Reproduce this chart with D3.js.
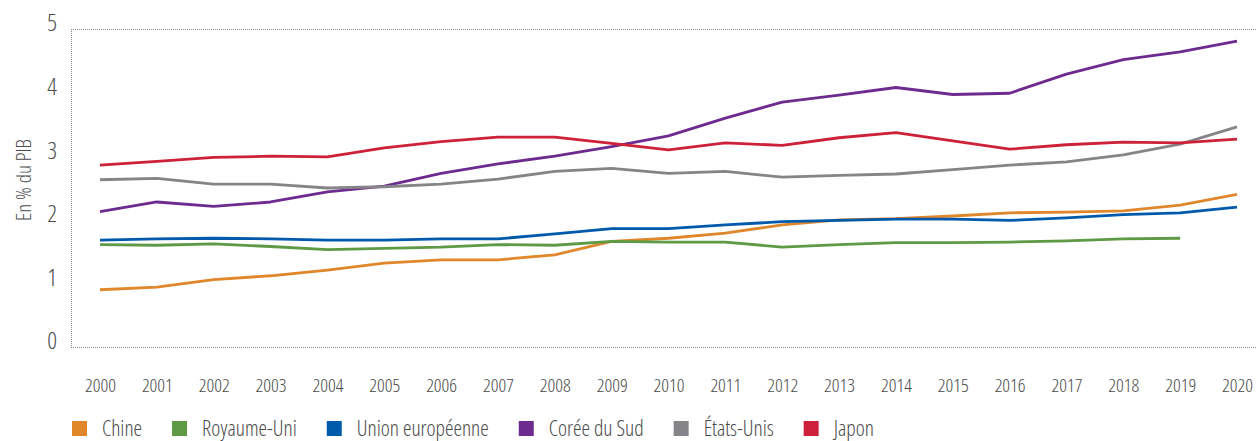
<!DOCTYPE html>
<html>
<head>
    <meta charset="utf-8">
    <title>R&D en % du PIB</title>
    <script src="https://cdnjs.cloudflare.com/ajax/libs/d3/7.8.5/d3.min.js"></script>
    <style>
        body { margin: 0; background: #fff; }
        svg text { font-family: "Open Sans", "DejaVu Sans", sans-serif; font-stretch: condensed; font-weight: 300; fill: #4a4a4a; }
    </style>
</head>
<body>
    <div id="vis"></div>

    <script>
        // years on the x axis
        var years = d3.range(2000, 2021);

        // series, in % of GDP
        var chine = [0.90, 0.94, 1.06, 1.12, 1.21, 1.32, 1.37, 1.37, 1.45, 1.66, 1.71, 1.79, 1.92, 2.00, 2.02, 2.06, 2.11, 2.12, 2.14, 2.23, 2.40];
        var royaumeUni = [1.61, 1.60, 1.62, 1.58, 1.53, 1.55, 1.57, 1.61, 1.60, 1.66, 1.65, 1.65, 1.57, 1.61, 1.64, 1.64, 1.65, 1.67, 1.70, 1.71, null];
        var unionEuropeenne = [1.68, 1.70, 1.71, 1.70, 1.68, 1.68, 1.70, 1.70, 1.78, 1.86, 1.86, 1.92, 1.97, 1.99, 2.01, 2.01, 1.99, 2.03, 2.08, 2.11, 2.20];
        var coreeDuSud = [2.13, 2.28, 2.21, 2.28, 2.44, 2.53, 2.73, 2.88, 3.00, 3.15, 3.32, 3.60, 3.85, 3.96, 4.08, 3.97, 3.99, 4.29, 4.52, 4.64, 4.81];
        var etatsUnis = [2.63, 2.65, 2.56, 2.56, 2.50, 2.52, 2.56, 2.64, 2.76, 2.81, 2.73, 2.76, 2.67, 2.70, 2.72, 2.79, 2.86, 2.91, 3.02, 3.19, 3.46];
        var japon = [2.86, 2.92, 2.98, 3.00, 2.99, 3.13, 3.23, 3.30, 3.30, 3.20, 3.10, 3.21, 3.17, 3.29, 3.37, 3.24, 3.11, 3.18, 3.22, 3.21, 3.27];

        var seriesNames = ["Chine", "Royaume-Uni", "Union européenne", "Corée du Sud", "États-Unis", "Japon"];
        var seriesValues = [chine, royaumeUni, unionEuropeenne, coreeDuSud, etatsUnis, japon];
        var seriesColors = ["#e0862b", "#5e9a45", "#005aab", "#6e2b8f", "#858589", "#cd2039"];

        var yTicks = [0, 1, 2, 3, 4, 5];

        var width = 1256, height = 441;

        var x = d3.scaleLinear().domain([2000, 2020]).range([100, 1237]);
        var y = d3.scaleLinear().domain([0, 5]).range([347, 29]);

        var vis = d3.select("#vis").append("svg")
            .attr("width", width)
            .attr("height", height);

        // dotted frame: top, bottom, left
        var frame = vis.append("g")
            .attr("stroke", "#8a8a8a")
            .attr("stroke-width", 1)
            .attr("stroke-dasharray", "1,1");
        frame.append("line").attr("x1", 71).attr("x2", width).attr("y1", y(5) + 0.5).attr("y2", y(5) + 0.5);
        frame.append("line").attr("x1", 71).attr("x2", width).attr("y1", y(0) + 0.5).attr("y2", y(0) + 0.5);
        frame.append("line").attr("x1", 71.5).attr("x2", 71.5).attr("y1", y(5)).attr("y2", y(0));

        // y axis labels
        var yAxis = d3.axisLeft(y).tickValues(yTicks).tickFormat(d3.format("d")).tickSize(0).tickPadding(0);
        vis.append("g")
            .attr("transform", "translate(57,0)")
            .call(yAxis)
            .call(function(g) { g.select(".domain").remove(); })
            .selectAll("text")
            .attr("dy", "0.08em")
            .style("font-size", "24px");

        // axis title
        vis.append("text")
            .attr("transform", "translate(31,180) rotate(-90)")
            .attr("text-anchor", "middle")
            .style("font-size", "21px")
            .text("En % du PIB");

        // x axis labels
        var xAxis = d3.axisBottom(x).tickValues(years).tickFormat(d3.format("d")).tickSize(0);
        vis.append("g")
            .attr("transform", "translate(0," + y(0) + ")")
            .call(xAxis)
            .call(function(g) { g.select(".domain").remove(); })
            .selectAll("text")
            .attr("y", 45)
            .attr("dy", null)
            .style("font-size", "19px");

        // lines
        var line = d3.line()
            .defined(function(d) { return d != null; })
            .x(function(d, i) { return x(years[i]); })
            .y(function(d) { return y(d); });

        vis.append("g").selectAll("path")
            .data(seriesValues)
            .enter().append("path")
            .attr("d", line)
            .attr("fill", "none")
            .attr("stroke", function(d, i) { return seriesColors[i]; })
            .attr("stroke-width", 2.8)
            .attr("stroke-linejoin", "round");

        // legend, laid out left to right
        var legend = vis.append("g").attr("transform", "translate(72,421)");
        var lx = 0;
        seriesNames.forEach(function(name, i) {
            legend.append("rect")
                .attr("x", lx).attr("y", 0)
                .attr("width", 15).attr("height", 15)
                .attr("fill", seriesColors[i]);
            var t = legend.append("text")
                .attr("x", lx + 30).attr("y", 14.5)
                .style("font-size", "21.5px")
                .text(name);
            lx += 30 + t.node().getComputedTextLength() + 30;
        });
    </script>
</body>
</html>
